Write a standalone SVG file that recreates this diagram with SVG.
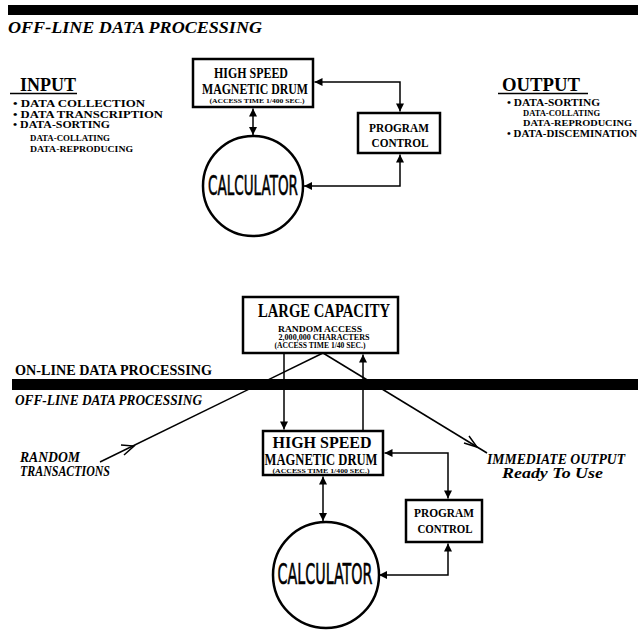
<svg xmlns="http://www.w3.org/2000/svg" width="642" height="634" viewBox="0 0 642 634">
<style>
.t{font-family:"Liberation Serif",serif;font-weight:bold;fill:#000}
.i{font-style:italic}
.c{text-anchor:middle}
.cal{font-family:"DejaVu Sans","Liberation Sans",sans-serif;font-weight:normal;fill:#000;stroke:#000;stroke-width:0.6;text-anchor:middle}
.box{fill:#fff;stroke:#000;stroke-width:2.5}
.ln{fill:none;stroke:#000;stroke-width:1.5}
.bar{fill:#000}
</style>
<defs>
<marker id="a" viewBox="0 0 10 10" refX="10" refY="5" markerWidth="9" markerHeight="8" markerUnits="userSpaceOnUse" orient="auto-start-reverse"><path d="M0,0 L10,5 L0,10 z"/></marker>
</defs>
<rect width="642" height="634" fill="#fff"/>

<g id="header-top">
<rect class="bar" x="8" y="5" width="630" height="10"/>
<text class="t i" x="8" y="33" font-size="17" textLength="254" lengthAdjust="spacingAndGlyphs">OFF-LINE DATA PROCESSING</text>
</g>

<g id="input">
<text class="t" x="20" y="91" font-size="18" textLength="56" lengthAdjust="spacingAndGlyphs">INPUT</text>
<line class="ln" x1="10" y1="93.5" x2="77" y2="93.5"/>
<text class="t" x="13" y="107" font-size="10.5" textLength="132" lengthAdjust="spacingAndGlyphs">• DATA COLLECTION</text>
<text class="t" x="13" y="117.5" font-size="10.5" textLength="150" lengthAdjust="spacingAndGlyphs">• DATA TRANSCRIPTION</text>
<text class="t" x="13" y="128" font-size="10.5" textLength="97" lengthAdjust="spacingAndGlyphs">• DATA-SORTING</text>
<text class="t" x="30" y="141" font-size="9" textLength="80" lengthAdjust="spacingAndGlyphs">DATA-COLLATING</text>
<text class="t" x="30" y="152" font-size="9" textLength="103" lengthAdjust="spacingAndGlyphs">DATA-REPRODUCING</text>
</g>

<g id="output">
<text class="t" x="502" y="91" font-size="18" textLength="78" lengthAdjust="spacingAndGlyphs">OUTPUT</text>
<line class="ln" x1="498" y1="93.5" x2="588" y2="93.5"/>
<text class="t" x="507" y="106" font-size="11" textLength="93" lengthAdjust="spacingAndGlyphs">• DATA-SORTING</text>
<text class="t" x="523" y="115.5" font-size="9" textLength="77" lengthAdjust="spacingAndGlyphs">DATA-COLLATING</text>
<text class="t" x="523" y="125.5" font-size="9" textLength="109" lengthAdjust="spacingAndGlyphs">DATA-REPRODUCING</text>
<text class="t" x="507" y="137" font-size="11" textLength="130" lengthAdjust="spacingAndGlyphs">• DATA-DISCEMINATION</text>
</g>

<g id="drum-top">
<rect class="box" x="193" y="59" width="120" height="48"/>
<text class="t c" x="251" y="78" font-size="15" textLength="74" lengthAdjust="spacingAndGlyphs">HIGH SPEED</text>
<text class="t c" x="255" y="94" font-size="15" textLength="106" lengthAdjust="spacingAndGlyphs">MAGNETIC DRUM</text>
<text class="t c" x="257" y="103" font-size="7" textLength="95" lengthAdjust="spacingAndGlyphs">(ACCESS TIME 1/400 SEC.)</text>
</g>

<g id="program-top">
<rect class="box" x="358" y="113" width="82" height="40"/>
<text class="t c" x="399" y="132" font-size="13" textLength="60" lengthAdjust="spacingAndGlyphs">PROGRAM</text>
<text class="t c" x="400" y="146.5" font-size="13" textLength="57" lengthAdjust="spacingAndGlyphs">CONTROL</text>
</g>

<g id="calculator-top">
<circle class="box" cx="253" cy="186" r="50"/>
<text class="cal" x="253" y="195" font-size="26" textLength="90" lengthAdjust="spacingAndGlyphs">CALCULATOR</text>
</g>

<g id="large-capacity">
<rect class="box" x="243" y="297" width="155" height="56"/>
<text class="t c" x="324" y="317" font-size="18" textLength="132" lengthAdjust="spacingAndGlyphs">LARGE CAPACITY</text>
<text class="t c" x="320" y="332" font-size="8" textLength="84" lengthAdjust="spacingAndGlyphs">RANDOM ACCESS</text>
<text class="t c" x="324" y="340" font-size="8" textLength="91" lengthAdjust="spacingAndGlyphs">2,000,000 CHARACTERS</text>
<text class="t c" x="320" y="348" font-size="8" textLength="91" lengthAdjust="spacingAndGlyphs">(ACCESS TIME 1/40 SEC.)</text>
</g>

<g id="divider">
<text class="t" x="15" y="375" font-size="15" textLength="197" lengthAdjust="spacingAndGlyphs">ON-LINE DATA PROCESSING</text>
<rect class="bar" x="12" y="379" width="626" height="11"/>
<text class="t i" x="15" y="405" font-size="15" textLength="187" lengthAdjust="spacingAndGlyphs">OFF-LINE DATA PROCESSING</text>
</g>

<g id="random-transactions">
<text class="t i" x="20" y="462" font-size="14" textLength="60" lengthAdjust="spacingAndGlyphs">RANDOM</text>
<text class="t i" x="20" y="476" font-size="14" textLength="90" lengthAdjust="spacingAndGlyphs">TRANSACTIONS</text>
</g>

<g id="immediate-output">
<text class="t i" x="487" y="464" font-size="15.5" textLength="138" lengthAdjust="spacingAndGlyphs">IMMEDIATE OUTPUT</text>
<text class="t i" x="502" y="478" font-size="14" textLength="101" lengthAdjust="spacingAndGlyphs">Ready To Use</text>
</g>

<g id="drum-bottom">
<rect class="box" x="263" y="431" width="120" height="44"/>
<text class="t c" x="322" y="448" font-size="16" textLength="99" lengthAdjust="spacingAndGlyphs">HIGH SPEED</text>
<text class="t c" x="321" y="465" font-size="16" textLength="113" lengthAdjust="spacingAndGlyphs">MAGNETIC DRUM</text>
<text class="t c" x="321" y="473" font-size="7" textLength="97" lengthAdjust="spacingAndGlyphs">(ACCESS TIME 1/400 SEC.)</text>
</g>

<g id="program-bottom">
<rect class="box" x="406" y="500" width="76" height="42"/>
<text class="t c" x="444" y="517" font-size="13" textLength="60" lengthAdjust="spacingAndGlyphs">PROGRAM</text>
<text class="t c" x="445" y="533" font-size="13" textLength="55" lengthAdjust="spacingAndGlyphs">CONTROL</text>
</g>

<g id="calculator-bottom">
<circle class="box" cx="326" cy="575" r="53"/>
<text class="cal" x="325" y="584" font-size="28" textLength="95" lengthAdjust="spacingAndGlyphs">CALCULATOR</text>
</g>

<g id="connectors">
<line class="ln" x1="253" y1="108.5" x2="253" y2="135" marker-start="url(#a)" marker-end="url(#a)"/>
<polyline class="ln" points="314.5,82 400,82 400,111.5" marker-start="url(#a)" marker-end="url(#a)"/>
<polyline class="ln" points="304,186 400,186 400,154.5" marker-start="url(#a)" marker-end="url(#a)"/>

<line class="ln" x1="284" y1="354" x2="284" y2="429.5" marker-end="url(#a)"/>
<line class="ln" x1="363" y1="430" x2="363" y2="354.5" marker-end="url(#a)"/>
<line class="ln" x1="323" y1="476.5" x2="323" y2="521" marker-start="url(#a)" marker-end="url(#a)"/>
<polyline class="ln" points="384.5,453 448,453 448,498.5" marker-start="url(#a)" marker-end="url(#a)"/>
<polyline class="ln" points="379,575 448,575 448,543.5" marker-start="url(#a)" marker-end="url(#a)"/>

<line class="ln" x1="100" y1="462" x2="323" y2="353"/>
<polyline class="ln" points="124,455 134,446 121,445"/>
<line class="ln" x1="323" y1="353" x2="487" y2="453"/>
<polyline class="ln" points="464,443 477,447 469,436"/>
</g>
</svg>
